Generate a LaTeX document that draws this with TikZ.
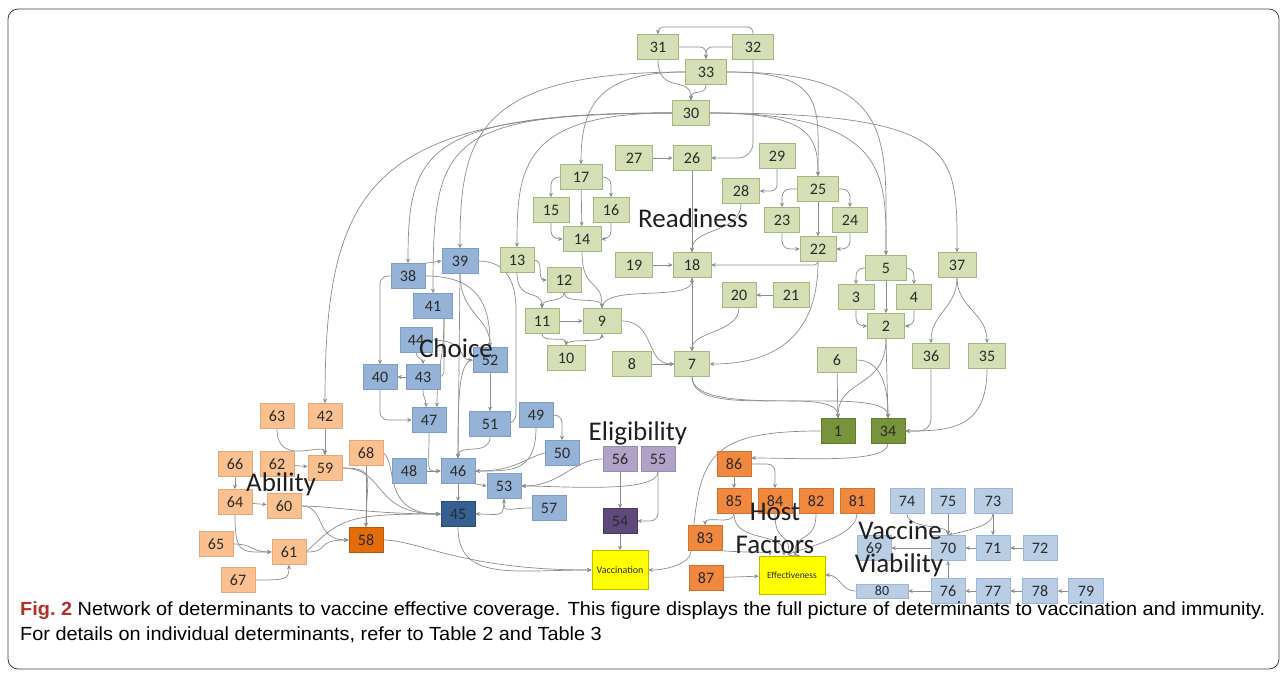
\documentclass[tikz,border=0pt]{standalone}
\usepackage{fontspec}
\usepackage{graphicx}
\setmainfont{Carlito}
\newfontfamily\capfont{Liberation Sans}
\usetikzlibrary{arrows.meta,backgrounds}
\definecolor{grF}{HTML}{D5DFB5}\definecolor{grD}{HTML}{A9B580}
\definecolor{dgF}{HTML}{77933C}\definecolor{dgD}{HTML}{5E7A2A}
\definecolor{blF}{HTML}{95B3D7}\definecolor{blD}{HTML}{7D9DC5}
\definecolor{dbF}{HTML}{366092}\definecolor{dbD}{HTML}{2A4D78}
\definecolor{lbF}{HTML}{B9CDE5}\definecolor{lbD}{HTML}{9DB6D6}
\definecolor{olF}{HTML}{FAC090}\definecolor{olD}{HTML}{E4A878}
\definecolor{odF}{HTML}{E36C0A}\definecolor{odD}{HTML}{B85808}
\definecolor{hfF}{HTML}{F0883E}\definecolor{hfD}{HTML}{D27230}
\definecolor{puF}{HTML}{B3A2C7}\definecolor{puD}{HTML}{9D8BB5}
\definecolor{pdF}{HTML}{5F497A}\definecolor{pdD}{HTML}{4A3860}
\definecolor{yeF}{HTML}{FFFF00}\definecolor{yeD}{HTML}{BDBD00}
\definecolor{edgec}{HTML}{8C8C8C}
\definecolor{txt}{HTML}{2A2A2A}
\definecolor{figred}{HTML}{B5302B}
\newsavebox\capA
\newsavebox\capB
\begin{document}
\sbox\capA{\capfont\fontsize{19}{19}\selectfont{\bfseries\color{figred}Fig.~2} Network of determinants to vaccine effective coverage. This figure displays the full picture of determinants to vaccination and immunity.}%
\sbox\capB{\capfont\fontsize{19}{19}\selectfont For details on individual determinants, refer to Table 2 and Table 3}%
\pgfmathsetmacro\capsx{1245/\the\wd\capA}%
\begin{tikzpicture}[x=1pt,y=-1pt,
  bx/.style={draw, line width=0.6pt, minimum height=25pt, minimum width=34pt, inner sep=1pt, font=\fontsize{16}{16}\selectfont, text=txt},
  gr/.style={bx, fill=grF, draw=grD},
  dg/.style={bx, fill=dgF, draw=dgD},
  bl/.style={bx, fill=blF, draw=blD},
  db/.style={bx, fill=dbF, draw=dbD},
  lb/.style={bx, fill=lbF, draw=lbD},
  ol/.style={bx, fill=olF, draw=olD},
  od/.style={bx, fill=odF, draw=odD},
  hf/.style={bx, fill=hfF, draw=hfD},
  pu/.style={bx, fill=puF, draw=puD},
  pd/.style={bx, fill=pdF, draw=pdD},
  ye/.style={bx, fill=yeF, draw=yeD, font=\fontsize{10}{10}\selectfont},
  e/.style={draw=edgec, line width=0.7pt, rounded corners=8pt, -{Stealth[length=4.5pt,width=4pt]}},
  lab/.style={font=\fontsize{27}{27}\selectfont, text=black!88, inner sep=0pt, anchor=base}
]
\useasboundingbox (0,0) rectangle (1287,676);
% ---------- Readiness (green)
\node[gr, minimum width=41pt] (n31) at (658,47) {31};
\node[gr, minimum width=41pt] (n32) at (753,47) {32};
\node[gr, minimum width=41pt] (n33) at (706,72) {33};
\node[gr, minimum width=37pt] (n30) at (691,113) {30};
\node[gr, minimum width=37pt] (n27) at (634,158) {27};
\node[gr, minimum width=38pt] (n26) at (692,158) {26};
\node[gr, minimum width=36pt] (n29) at (777,156) {29};
\node[gr, minimum width=42pt] (n17) at (581,177) {17};
\node[gr, minimum width=37pt] (n28) at (741,191) {28};
\node[gr, minimum width=41pt] (n25) at (818,189) {25};
\node[gr, minimum width=36pt] (n15) at (551,210) {15};
\node[gr, minimum width=36pt] (n16) at (611,210) {16};
\node[gr, minimum width=35pt] (n23) at (782,220) {23};
\node[gr, minimum width=35pt] (n24) at (850,220) {24};
\node[gr, minimum width=38pt] (n14) at (582,239) {14};
\node[gr, minimum width=36pt] (n22) at (818,249) {22};
\node[gr] (n13) at (517,260) {13};
\node[gr, minimum width=37pt] (n19) at (634,265) {19};
\node[gr, minimum width=38pt] (n18) at (692,265) {18};
\node[gr, minimum width=41pt] (n5) at (886,268) {5};
\node[gr, minimum width=38pt] (n37) at (957,265) {37};
\node[gr] (n12) at (564,280) {12};
\node[gr] (n20) at (739,295) {20};
\node[gr, minimum width=36pt] (n21) at (791,295) {21};
\node[gr, minimum width=36pt] (n3) at (856,297) {3};
\node[gr, minimum width=35pt] (n4) at (914,297) {4};
\node[gr] (n11) at (542,321) {11};
\node[gr, minimum width=38pt] (n9) at (602,321) {9};
\node[gr, minimum width=37pt] (n2) at (886,326) {2};
\node[gr, minimum width=38pt] (n10) at (566,358) {10};
\node[gr, minimum width=39pt] (n8) at (632,364) {8};
\node[gr, minimum width=35pt] (n7) at (692,364) {7};
\node[gr, minimum width=39pt] (n6) at (837,360) {6};
\node[gr, minimum width=37pt] (n36) at (931,356) {36};
\node[gr, minimum width=37pt] (n35) at (987,356) {35};
\node[dg] (n1) at (838,431) {1};
\node[dg] (n34) at (888,431) {34};
% ---------- Choice (blue)
\node[bl, minimum width=36pt] (n39) at (460,261) {39};
\node[bl] (n38) at (408,276) {38};
\node[bl, minimum width=39pt] (n41) at (433,306) {41};
\node[bl, minimum width=32pt] (n44) at (416,340) {44};
\node[bl] (n52) at (490,360) {52};
\node[bl] (n40) at (380,377) {40};
\node[bl] (n43) at (423,377) {43};
\node[bl] (n47) at (429,420) {47};
\node[bl, minimum width=41pt] (n51) at (490,424) {51};
\node[bl] (n49) at (536,415) {49};
\node[bl] (n50) at (562,453) {50};
\node[bl] (n46) at (458,471) {46};
\node[bl] (n48) at (409,471) {48};
\node[bl] (n53) at (504,486) {53};
\node[bl] (n57) at (549,508) {57};
\node[db] (n45) at (458,514) {45};
% ---------- Eligibility (purple)
\node[pu] (n56) at (620,459) {56};
\node[pu] (n55) at (658,459) {55};
\node[pd] (n54) at (620,521) {54};
\node[ye, minimum width=56pt, minimum height=39pt] (vac) at (620,570) {Vaccination};
% ---------- Ability (orange)
\node[ol] (n63) at (277,416) {63};
\node[ol] (n42) at (325,416) {42};
\node[ol] (n66) at (235,464) {66};
\node[ol] (n62) at (277,464) {62};
\node[ol] (n59) at (325,468) {59};
\node[ol] (n68) at (366,453) {68};
\node[ol] (n64) at (235,502) {64};
\node[ol] (n60) at (284,506) {60};
\node[ol] (n65) at (216,544) {65};
\node[ol] (n61) at (289,552) {61};
\node[ol] (n67) at (238,580) {67};
\node[od] (n58) at (366,540) {58};
% ---------- Host factors
\node[hf] (n86) at (734,464) {86};
\node[hf] (n85) at (734,501) {85};
\node[hf] (n84) at (775,501) {84};
\node[hf] (n82) at (816,501) {82};
\node[hf] (n81) at (857,501) {81};
\node[hf] (n83) at (705,538) {83};
\node[hf] (n87) at (706,578) {87};
\node[ye, minimum width=66pt, minimum height=38pt, font=\fontsize{9.5}{9.5}\selectfont] (eff) at (792,575) {Effectiveness};
% ---------- Vaccine viability
\node[lb] (n74) at (907,501) {74};
\node[lb] (n75) at (948,501) {75};
\node[lb, minimum width=38pt] (n73) at (993,501) {73};
\node[lb] (n69) at (874,548) {69};
\node[lb] (n70) at (948,548) {70};
\node[lb] (n71) at (993,548) {71};
\node[lb] (n72) at (1040,548) {72};
\node[lb, minimum width=52pt, minimum height=14pt, font=\fontsize{14}{14}\selectfont] (n80) at (882,591) {80};
\node[lb] (n76) at (948,591) {76};
\node[lb] (n77) at (993,591) {77};
\node[lb, minimum width=35pt] (n78) at (1040,591) {78};
\node[lb, minimum width=35pt] (n79) at (1086,591) {79};

\begin{pgfonlayer}{background}
\draw[rounded corners=10pt, line width=0.8pt, draw=black!75] (8,9) rectangle (1279,669);
% top cluster
\draw[e, rounded corners=5pt] (n32.north) |- (705,27) -| (n31.north);
\draw[e, rounded corners=15pt] (n32.south) |- (n26.east);
\draw[e, rounded corners=6pt] (n31.east) -| (n33.north);
\draw[e, rounded corners=6pt] (n32.west) -| (n33.north);
\draw[e] (n31.south) .. controls +(0,35) and +(0,-25) .. (n30.north);
\draw[e] (n33.south) .. controls +(0,12) and +(0,-12) .. (n30.north);
\draw[e] (n33.west) .. controls +(-85,0) and +(0,-60) .. (n17.north);
\draw[e] (n33.west) .. controls +(-210,0) and +(0,-110) .. (n39.north);
\draw[e] (n30.west) .. controls +(-300,0) and +(0,-220) .. (n42.north);
\draw[e] (n30.west) .. controls +(-250,0) and +(0,-110) .. (n38.north);
\draw[e] (n30.west) .. controls +(-230,0) and +(0,-150) .. (n41.north);
\draw[e] (n30.west) .. controls +(-150,0) and +(0,-80) .. (n13.north);
\draw[e] (n30.east) .. controls +(100,0) and +(0,-40) .. (n25.north);
\draw[e] (n33.east) .. controls +(100,0) and +(0,-70) .. (n25.north);
\draw[e] (n33.east) .. controls +(170,0) and +(0,-120) .. (n5.north);
\draw[e] (n30.east) .. controls +(180,0) and +(0,-80) .. (n5.north);
\draw[e] (n30.east) .. controls +(250,0) and +(0,-100) .. (n37.north);
% readiness internals
\draw[e] (n27) -- (n26);
\draw[e] (n17.west) -| (n15.north);
\draw[e] (n17.east) -| (n16.north);
\draw[e] (n17) -- (n14);
\draw[e] (n15.south) |- (n14.west);
\draw[e] (n16.south) |- (n14.east);
\draw[e] (n14.south) .. controls +(0,40) and +(0,-30) .. (n9.north);
\draw[e] (n13.east) .. controls +(10,0) and +(-10,0) .. (n12.west);
\draw[e] (n13.south) .. controls +(0,30) and +(0,-20) .. (n11.north);
\draw[e] (n12.south) .. controls +(0,10) and +(0,-10) .. (n11.north);
\draw[e] (n12.south) .. controls +(0,12) and +(0,-12) .. (n9.north);
\draw[e] (n11) -- (n9);
\draw[e] (n11.south) .. controls +(0,10) and +(0,-10) .. (n10.north);
\draw[e] (n10.north) .. controls +(0,-8) and +(0,10) .. (n9.south);
\draw[e] (n9.north) .. controls +(0,-25) and +(0,25) .. (n18.south);
\draw[e] (n9.east) .. controls +(35,0) and +(-30,0) .. (n7.west);
\draw[e] (n19) -- (n18);
\draw[e] (n8) -- (n7);
\draw[e] (n21) -- (n20);
\draw[e] (n26) -- (n18);
\draw[e] (n28.south) .. controls +(0,30) and +(0,-25) .. (n18.north);
\draw[e, rounded corners=6pt] (n29.south) |- (n28.east);
\draw[e] (n18) -- (n7);
\draw[e] (n20.south) .. controls +(0,25) and +(0,-20) .. (n7.north);
\draw[e] (n22.south) .. controls +(0,90) and +(45,0) .. (n7.east);
\draw[e, rounded corners=4pt] (n22.south) |- (n18.east);
\draw[e] (n25.west) -| (n23.north);
\draw[e] (n25.east) -| (n24.north);
\draw[e] (n25) -- (n22);
\draw[e] (n23.south) |- (n22.west);
\draw[e] (n24.south) |- (n22.east);
\draw[e] (n5.west) -| (n3.north);
\draw[e] (n5.east) -| (n4.north);
\draw[e] (n5) -- (n2);
\draw[e] (n3.south) |- (n2.west);
\draw[e] (n4.south) |- (n2.east);
\draw[e] (n2.south) .. controls +(0,50) and +(0,-40) .. (n1.north);
\draw[e] (n2.south) -- (n34.north);
\draw[e] (n6) -- (n1);
\draw[e] (n6.east) .. controls +(25,0) and +(0,-30) .. (n34.north);
\draw[e] (n7.south) .. controls +(0,45) and +(0,-35) .. (n1.north);
\draw[e] (n7.south) .. controls +(0,45) and +(0,-35) .. (n34.north);
\draw[e, rounded corners=12pt] (n36.south) |- (n34.east);
\draw[e] (n35.south) .. controls +(0,60) and +(45,0) .. (n34.east);
\draw[e] (n37.south) .. controls +(0,30) and +(0,-30) .. (n36.north);
\draw[e] (n37.south) .. controls +(0,30) and +(0,-30) .. (n35.north);
\draw[e] (n1.west) .. controls +(-110,0) and +(8,-90) .. (692,545) .. controls +(-3,18) and +(20,0) .. (vac.east);
\draw[e] (n34.south) .. controls +(0,20) and +(50,0) .. ([yshift=6pt]n86.east);
% host factors
\draw[e] (n86) -- (n85);
\draw[e] (n86.east) -| (n84.north);
\draw[e] (n85.south) .. controls +(0,12) and +(0,-10) .. (n83.north);
\draw[e] (n85.south) .. controls +(0,30) and +(0,-25) .. ([xshift=-8pt]eff.north);
\draw[e] (n84.south) .. controls +(0,30) and +(0,-25) .. ([xshift=-3pt]eff.north);
\draw[e] (n82.south) .. controls +(0,30) and +(0,-25) .. ([xshift=3pt]eff.north);
\draw[e] (n81.south) .. controls +(0,30) and +(-40,0) .. ([xshift=8pt]eff.north);
\draw[e] (n83.south east) .. controls +(45,3) and +(0,-5) .. ([xshift=-22pt]eff.north);
\draw[e] (n87) -- (eff);
\draw[e] (n80.west) .. controls +(-15,0) and +(15,0) .. (eff.east);
% vaccine viability
\draw[e] (n74.south) .. controls +(0,15) and +(0,-10) .. (n70.north);
\draw[e] (n75) -- (n70);
\draw[e] (n73.south) .. controls +(0,12) and +(20,-5) .. (n70.north);
\draw[e] (n73) -- (n71);
\draw[e] (n72) -- (n71);
\draw[e] (n71) -- (n70);
\draw[e] (n70) -- (n69);
\draw[e] (n79) -- (n78);
\draw[e] (n78) -- (n77);
\draw[e] (n77) -- (n76);
\draw[e] (n76) -- (n80);
\draw[e] (n76) -- (n70);
% eligibility
\draw[e] (n56) -- (n54);
\draw[e] (n55.south) |- (n54.east);
\draw[e] (n54) -- (vac);
\draw[e] (n56.west) .. controls +(-30,0) and +(40,0) .. (n53.east);
\draw[e] (n55.south) .. controls +(0,22) and +(40,0) .. (n53.east);
% choice
\draw[e] (n38.north east) -- (n39.west);
\draw[e] (n38.west) -| (n40.north);
\draw[e] (n38.east) .. controls +(55,0) and +(0,-40) .. (n52.north);
\draw[e] (n39.south) .. controls +(0,40) and +(0,-30) .. (n52.north);
\draw[e, rounded corners=10pt] (n39.east) .. controls +(30,0) and +(0,-35) .. (516,320) |- (n51.east);
\draw[e] (n39.south) -- (n46.north);
\draw[e, rounded corners=5pt] ([xshift=11pt]n41.south) |- (n43.east);
\draw[e] ([xshift=11pt]n41.south) .. controls +(0,40) and +(0,-40) .. ([xshift=8pt]n47.north);
\draw[e] (n44.south) .. controls +(0,6) and +(0,-6) .. (n43.north);
\draw[e] (n44.east) .. controls +(35,0) and +(-15,0) .. (n52.west);
\draw[e] (n43) -- (n40);
\draw[e] (n40.south) |- (n47.west);
\draw[e] (n43.south) .. controls +(0,8) and +(0,-8) .. ([xshift=-3pt]n47.north);
\draw[e] (n52) -- (n51);
\draw[e] (n52.west) .. controls +(-15,0) and +(0,-50) .. (n46.north);
\draw[e] (n51.south) .. controls +(0,20) and +(0,-15) .. (n46.north);
\draw[e] (n47.south) .. controls +(0,40) and +(-15,0) .. (n46.west);
\draw[e] (n48) -- (n46);
\draw[e] (n49.south) .. controls +(0,45) and +(35,0) .. (n46.east);
\draw[e] (n49.east) -| (n50.north);
\draw[e] (n50.west) .. controls +(-20,5) and +(40,0) .. (n46.east);
\draw[e] (n46.south east) -- (n53.west);
\draw[e] (n53.south) .. controls +(0,20) and +(25,0) .. (n45.east);
\draw[e] (n57.west) .. controls +(-25,0) and +(0,15) .. (n53.south);
\draw[e] (n46) -- (n45);
\draw[e] (n45.south) .. controls +(0,55) and +(-80,0) .. (vac.west);
% ability
\draw[e] (n42) -- (n59);
\draw[e] (n63.south) .. controls +(0,40) and +(0,-15) .. (n59.north);
\draw[e] (n62) -- (n59);
\draw[e] (n66) -- (n64);
\draw[e] (n64) -- (n60);
\draw[e] (n64.south) .. controls +(0,40) and +(-30,0) .. (n61.west);
\draw[e] (n65.east) .. controls +(20,0) and +(-20,0) .. (n61.west);
\draw[e] (n67.east) .. controls +(30,0) and +(0,15) .. (n61.south);
\draw[e] (n59.east) .. controls +(35,0) and +(0,-50) .. (n58.north);
\draw[e] (n68) -- (n58);
\draw[e] (n59.east) .. controls +(45,0) and +(-70,0) .. (n45.west);
\draw[e] (n68.east) .. controls +(15,10) and +(-60,0) .. (n45.west);
\draw[e] (n60.east) .. controls +(30,0) and +(-70,0) .. (n45.west);
\draw[e] (n60.east) .. controls +(25,0) and +(-35,0) .. (n58.west);
\draw[e] (n61.east) .. controls +(25,0) and +(-35,0) .. (n58.west);
\draw[e] (n61.east) .. controls +(35,-35) and +(-90,0) .. (n45.west);
\draw[e] (n58.east) .. controls +(35,0) and +(-130,0) .. (vac.west);
\end{pgfonlayer}

% ---------- cluster labels
\node[lab] (lRead) at (693,228) {Readiness};
\node[lab] (lChoice) at (456,357) {Choice};
\node[lab] (lElig) at (638,440) {Eligibility};
\node[lab] (lAbil) at (281,491) {Ability};
\node[lab] (lHost) at (775,520) {Host};
\node[lab] (lFact) at (775,553) {Factors};
\node[lab] (lVacc) at (900,539) {Vaccine};
\node[lab] (lViab) at (899,572) {Viability};

% ---------- caption
\node[anchor=base west, inner sep=0pt] (cap1) at (20,615) {\scalebox{\capsx}[1]{\usebox\capA}};
\node[anchor=base west, inner sep=0pt] (cap2) at (20,640) {\scalebox{\capsx}[1]{\usebox\capB}};
\end{tikzpicture}
\end{document}
